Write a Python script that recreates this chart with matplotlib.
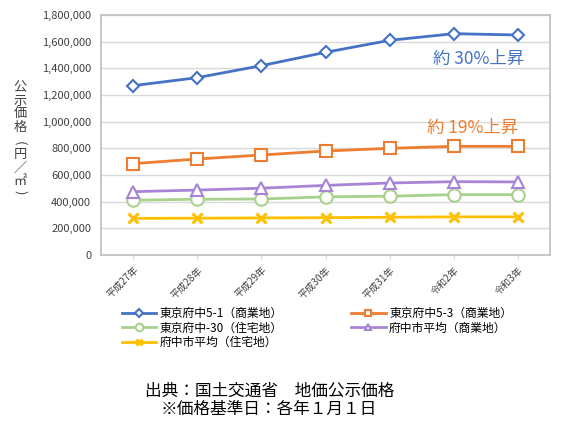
import matplotlib
matplotlib.use("Agg")
import matplotlib.pyplot as plt
from matplotlib.ticker import FuncFormatter

plt.rcParams['font.family'] = ['Noto Sans CJK JP', 'DejaVu Sans']

years = ["平成27年", "平成28年", "平成29年", "平成30年", "平成31年", "令和2年", "令和3年"]
fuchu_5_1 = [1270000, 1330000, 1420000, 1520000, 1610000, 1660000, 1650000]
fuchu_5_3 = [685000, 720000, 750000, 780000, 800000, 815000, 815000]
fuchu_30 = [411000, 418000, 420000, 436000, 441000, 453000, 453000]
city_commercial = [475000, 487000, 501000, 522000, 540000, 550000, 548000]
city_residential = [275000, 276000, 278000, 280000, 283000, 286000, 286000]

x = range(len(years))

fig = plt.figure(figsize=(5.67, 4.23), dpi=100)
ax = fig.add_axes([101/567, 1-255/423, 449/567, 240/423])

l1, = ax.plot(x, fuchu_5_1, color="#4472C4", lw=2, marker="D", ms=6.5,
              mfc="white", mec="#4472C4", mew=1.5, label="東京府中5-1（商業地）")
l2, = ax.plot(x, fuchu_5_3, color="#ED7D31", lw=2, marker="s", ms=8,
              mfc="white", mec="#ED7D31", mew=1.5, label="東京府中5-3（商業地）")
l3, = ax.plot(x, fuchu_30, color="#A9D18E", lw=2, marker="o", ms=9,
              mfc="white", mec="#A9D18E", mew=1.5, label="東京府中-30（住宅地）")
l4, = ax.plot(x, city_commercial, color="#A884D6", lw=2, marker="^", ms=8,
              mfc="white", mec="#A884D6", mew=1.5, label="府中市平均（商業地）")
l5, = ax.plot(x, city_residential, color="#FFC000", lw=2, marker="x", ms=7,
              mec="#FFC000", mew=2.2, label="府中市平均（住宅地）")

ax.set_xlim(-0.5, 6.5)
ax.set_ylim(0, 1800000)
ax.set_yticks(range(0, 1800001, 200000))
ax.yaxis.set_major_formatter(FuncFormatter(lambda v, p: f"{int(v):,}"))
ax.set_xticks(list(x))
ax.set_xticklabels(years, rotation=45, ha="right", rotation_mode="anchor", fontsize=7)
ax.tick_params(axis="y", length=0, labelsize=8, pad=7, colors="#404040")
ax.tick_params(axis="x", length=3, color="#D9D9D9", labelsize=7, pad=4, labelcolor="#404040")
ax.grid(axis="y", color="#D9D9D9", lw=1)
ax.set_axisbelow(True)
for s in ax.spines.values():
    s.set_color("#BFBFBF")
    s.set_linewidth(1.2)

ax.text(6.1, 1470000, "約 30%上昇", color="#4472C4", fontsize=12.5, ha="right", va="center")
ax.text(6.0, 950000, "約 19%上昇", color="#ED7D31", fontsize=12.5, ha="right", va="center")

# 縦書きの軸ラベル (1文字ずつ, 括弧は回転)
ylabel_chars = ["公", "示", "価", "格", "(", "円", "／", "㎡", ")"]
ylabel_y = [88, 101, 114, 127, 143, 154, 168, 181, 192]
ylabel_rot = [0, 0, 0, 0, 270, 0, 0, 0, 270]
for ch, yy, rot in zip(ylabel_chars, ylabel_y, ylabel_rot):
    fig.text(20/567, 1-yy/423, ch, fontsize=9.5, ha="center", va="center",
             rotation=rot, color="#404040")

handles = [l1, l3, l5, l2, l4]
fig.legend(handles=handles, labels=[h.get_label() for h in handles], ncol=2,
           loc="upper left", bbox_to_anchor=(122/567, 1-307/423), frameon=False,
           fontsize=8.5, handlelength=2.9, handletextpad=0.3, columnspacing=5.8,
           labelspacing=0.12, borderpad=0, borderaxespad=0, markerscale=0.6)

fig.text(270/567, 1-391/423, "出典：国土交通省　地価公示価格", fontsize=12, ha="center", va="center")
fig.text(269/567, 1-409/423, "※価格基準日：各年１月１日", fontsize=12, ha="center", va="center")

plt.savefig("out.png", dpi=100)
